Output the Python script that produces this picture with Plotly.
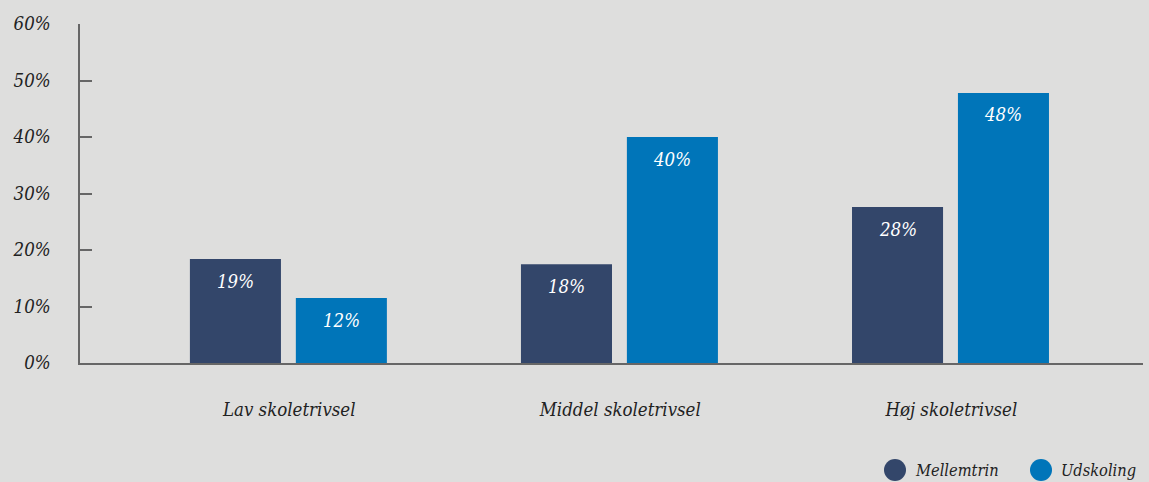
import plotly.graph_objects as go

categories = ["Lav skoletrivsel", "Middel skoletrivsel", "Høj skoletrivsel"]
mellemtrin = [18.4, 17.5, 27.6]
udskoling = [11.5, 40.0, 47.8]
mellemtrin_labels = ["19%", "18%", "28%"]
udskoling_labels = ["12%", "40%", "48%"]
series_names = ["Mellemtrin", "Udskoling"]
y_ticks = [0, 10, 20, 30, 40, 50, 60]
y_tick_labels = ["0%", "10%", "20%", "30%", "40%", "50%", "60%"]

DARK = "#33466A"
BLUE = "#0075B9"
BG = "#DEDEDD"
FONT = "DejaVu Serif Condensed, DejaVu Serif, serif"
TXT = "#222222"

xs = list(range(len(categories)))
bar_w = 0.275
off_dark = -0.300
off_blue = 0.020

fig = go.Figure()
fig.add_trace(go.Bar(name=series_names[0], x=xs, y=mellemtrin, width=bar_w, offset=off_dark,
                     marker=dict(color=DARK, line=dict(width=0)), showlegend=False))
fig.add_trace(go.Bar(name=series_names[1], x=xs, y=udskoling, width=bar_w, offset=off_blue,
                     marker=dict(color=BLUE, line=dict(width=0)), showlegend=False))

for i in xs:
    fig.add_annotation(x=i + off_dark + bar_w / 2, y=mellemtrin[i], text=f"<i>{mellemtrin_labels[i]}</i>",
                       showarrow=False, yshift=-22, font=dict(color="white", size=18.5, family=FONT))
    fig.add_annotation(x=i + off_blue + bar_w / 2, y=udskoling[i], text=f"<i>{udskoling_labels[i]}</i>",
                       showarrow=False, yshift=-22, font=dict(color="white", size=18.5, family=FONT))

# manual legend with circle markers (paper coords)
W, H = 1149, 482
ml, mr, mt, mb = 80, 6, 24, 119
pw, ph = W - ml - mr, H - mt - mb
def px_to_paper(px, py):
    return (px - ml) / pw, (H - mb - py) / ph

legend_items = [(895, DARK, series_names[0]), (1041, BLUE, series_names[1])]
for cx, col, name in legend_items:
    x0, y0 = px_to_paper(cx - 11, 459)
    x1, y1 = px_to_paper(cx + 11, 481)
    fig.add_shape(type="circle", xref="paper", yref="paper", x0=x0, y0=y0, x1=x1, y1=y1,
                  fillcolor=col, line=dict(width=0))
    tx, ty = px_to_paper(cx + 18, 470)
    fig.add_annotation(xref="paper", yref="paper", x=tx, y=ty, xanchor="left", yanchor="middle",
                       text=f"<i>{name}</i>", showarrow=False,
                       font=dict(size=16.3, color=TXT, family=FONT))

fig.update_layout(
    width=W, height=H,
    paper_bgcolor=BG, plot_bgcolor=BG,
    margin=dict(l=ml, r=mr, t=mt, b=mb),
    barmode="overlay",
    font=dict(family=FONT, size=18.5, color=TXT, style="italic"),
    showlegend=False,
    xaxis=dict(range=[-0.632, 2.579], tickvals=xs, ticktext=categories, showgrid=False,
               zeroline=False, showline=True, linecolor="#666666", linewidth=2,
               ticks="", ticklabelstandoff=29,
               tickfont=dict(size=18.5, style="italic", color=TXT, family=FONT)),
    yaxis=dict(range=[0, 60], tickvals=y_ticks, ticktext=y_tick_labels, showgrid=False,
               zeroline=False, showline=True, linecolor="#666666", linewidth=1.5,
               ticks="inside", ticklen=12, tickcolor="#666666", tickwidth=1.5,
               ticklabelstandoff=24,
               tickfont=dict(size=18.5, style="italic", color=TXT, family=FONT)),
)

fig.write_html("out.html", config={"displayModeBar": False},
               post_script="document.body.style.margin='0';document.body.style.padding='0';")
